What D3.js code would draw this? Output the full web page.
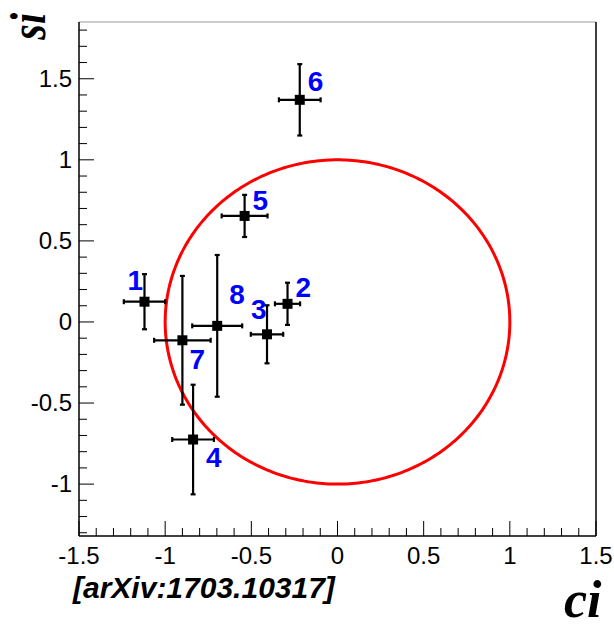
<!DOCTYPE html>
<html>
<head>
<meta charset="utf-8">
<script src="https://cdn.jsdelivr.net/npm/d3@7"></script>
<style>
  body { margin: 0; background: #fff; }
  svg { display: block; }
</style>
</head>
<body>
<svg></svg>
<script>
var WIDTH = 614;
var HEIGHT = 629;

// measurements, one entry per point
var labels = ['1', '2', '3', '4', '5', '6', '7', '8'];
var ci = [-1.12, -0.29, -0.409, -0.838, -0.539, -0.219, -0.90, -0.698];
var si = [0.125, 0.112, -0.076, -0.725, 0.654, 1.37, -0.113, -0.024];
var ciErr = [0.12, 0.073, 0.094, 0.121, 0.133, 0.121, 0.164, 0.145];
var siErr = [0.17, 0.13, 0.179, 0.338, 0.13, 0.22, 0.397, 0.437];

// label placement relative to the marker (px)
var labelDx = [-17, 8, -16, 13, 8, 8, 7, 12];
var labelDy = [-12, -7, -15, 27, -6, -9, 29, -22];

var majorTicks = [-1.5, -1, -0.5, 0, 0.5, 1, 1.5];
var xTickLabels = ['-1.5', '-1', '-0.5', '0', '0.5', '1', '1.5'];
var yMajorTicks = [-1, -0.5, 0, 0.5, 1, 1.5];
var yTickLabels = ['-1', '-0.5', '0', '0.5', '1', '1.5'];

var svg = d3.select('svg')
  .attr('width', WIDTH)
  .attr('height', HEIGHT);

var xScale = d3.scaleLinear().domain([-1.5, 1.5]).range([79, 596]);
var yScale = d3.scaleLinear().domain([-1.32, 1.85]).range([536, 22]);

var font = "'Liberation Sans', Arial, Helvetica, sans-serif";

// minor ticks every 0.1
var xMinor = d3.range(-15, 16).map(function(d) { return d / 10; });
var yMinor = d3.range(-13, 19).map(function(d) { return d / 10; });

svg.append('g')
  .selectAll('line')
  .data(xMinor)
  .enter()
  .append('line')
  .attr('x1', function(d) { return xScale(d); })
  .attr('x2', function(d) { return xScale(d); })
  .attr('y1', 536)
  .attr('y2', function(d) { return Math.abs(d * 2 - Math.round(d * 2)) < 1e-6 ? 521 : 528; })
  .attr('stroke', '#000')
  .attr('stroke-width', 1);

svg.append('g')
  .selectAll('line')
  .data(yMinor)
  .enter()
  .append('line')
  .attr('y1', function(d) { return yScale(d); })
  .attr('y2', function(d) { return yScale(d); })
  .attr('x1', 79)
  .attr('x2', function(d) { return Math.abs(d * 2 - Math.round(d * 2)) < 1e-6 ? 94 : 87; })
  .attr('stroke', '#000')
  .attr('stroke-width', 1);

// frame
svg.append('line').attr('x1', 79).attr('x2', 596).attr('y1', 22).attr('y2', 22)
  .attr('stroke', '#999').attr('stroke-width', 1);
svg.append('line').attr('x1', 596).attr('x2', 596).attr('y1', 22).attr('y2', 536)
  .attr('stroke', '#000').attr('stroke-width', 1.5);
svg.append('line').attr('x1', 79).attr('x2', 79).attr('y1', 22).attr('y2', 536)
  .attr('stroke', '#000').attr('stroke-width', 1.5);
svg.append('line').attr('x1', 79).attr('x2', 596).attr('y1', 536).attr('y2', 536)
  .attr('stroke', '#000').attr('stroke-width', 1.5);

// tick labels
svg.append('g')
  .selectAll('text')
  .data(majorTicks)
  .enter()
  .append('text')
  .attr('x', function(d) { return xScale(d); })
  .attr('y', 564)
  .attr('text-anchor', 'middle')
  .attr('font-family', font)
  .attr('font-size', 24)
  .text(function(d, i) { return xTickLabels[i]; });

svg.append('g')
  .selectAll('text')
  .data(yMajorTicks)
  .enter()
  .append('text')
  .attr('x', 72)
  .attr('y', function(d) { return yScale(d) + 8; })
  .attr('text-anchor', 'end')
  .attr('font-family', font)
  .attr('font-size', 24)
  .text(function(d, i) { return yTickLabels[i]; });

// unit circle
var circle = d3.range(0, 361).map(function(a) {
  var t = a * Math.PI / 180;
  return [Math.cos(t), Math.sin(t)];
});
svg.append('path')
  .datum(circle)
  .attr('d', d3.line()
    .x(function(d) { return xScale(d[0]); })
    .y(function(d) { return yScale(d[1]); }))
  .attr('fill', 'none')
  .attr('stroke', '#ff0000')
  .attr('stroke-width', 3);

// error bars
var pts = labels.map(function(l, i) {
  return { label: l, x: ci[i], y: si[i], ex: ciErr[i], ey: siErr[i], dx: labelDx[i], dy: labelDy[i] };
});

var g = svg.append('g').attr('stroke', '#000').attr('stroke-width', 2.2);
pts.forEach(function(p) {
  var cx = xScale(p.x), cy = yScale(p.y);
  var x0 = xScale(p.x - p.ex), x1 = xScale(p.x + p.ex);
  var y0 = yScale(p.y - p.ey), y1 = yScale(p.y + p.ey);
  g.append('line').attr('x1', x0).attr('x2', x1).attr('y1', cy).attr('y2', cy);
  g.append('line').attr('x1', cx).attr('x2', cx).attr('y1', y0).attr('y2', y1);
  g.append('line').attr('x1', x0).attr('x2', x0).attr('y1', cy - 2.5).attr('y2', cy + 2.5);
  g.append('line').attr('x1', x1).attr('x2', x1).attr('y1', cy - 2.5).attr('y2', cy + 2.5);
  g.append('line').attr('x1', cx - 2.5).attr('x2', cx + 2.5).attr('y1', y0).attr('y2', y0);
  g.append('line').attr('x1', cx - 2.5).attr('x2', cx + 2.5).attr('y1', y1).attr('y2', y1);
});

svg.append('g')
  .selectAll('rect')
  .data(pts)
  .enter()
  .append('rect')
  .attr('x', function(d) { return xScale(d.x) - 5; })
  .attr('y', function(d) { return yScale(d.y) - 5; })
  .attr('width', 10)
  .attr('height', 10)
  .attr('fill', '#000');

svg.append('g')
  .selectAll('text')
  .data(pts)
  .enter()
  .append('text')
  .attr('x', function(d) { return xScale(d.x) + d.dx; })
  .attr('y', function(d) { return yScale(d.y) + d.dy; })
  .attr('font-family', font)
  .attr('font-weight', 'bold')
  .attr('font-size', 28)
  .attr('fill', '#0000ff')
  .text(function(d) { return d.label; });

// axis titles
var serif = "'Liberation Serif', 'Times New Roman', serif";
svg.append('text')
  .attr('transform', 'translate(45,13) rotate(-90) scale(1,1.25)')
  .attr('text-anchor', 'end')
  .attr('font-family', serif)
  .attr('font-weight', 'bold')
  .attr('font-style', 'italic')
  .attr('font-size', 40)
  .text('si');

svg.append('text')
  .attr('x', 564)
  .attr('y', 617)
  .attr('font-family', serif)
  .attr('font-weight', 'bold')
  .attr('font-style', 'italic')
  .attr('font-size', 52)
  .text('ci');

svg.append('text')
  .attr('x', 73)
  .attr('y', 598)
  .attr('font-family', font)
  .attr('font-weight', 'bold')
  .attr('font-style', 'italic')
  .attr('font-size', 30)
  .text('[arXiv:1703.10317]');
</script>
</body>
</html>
